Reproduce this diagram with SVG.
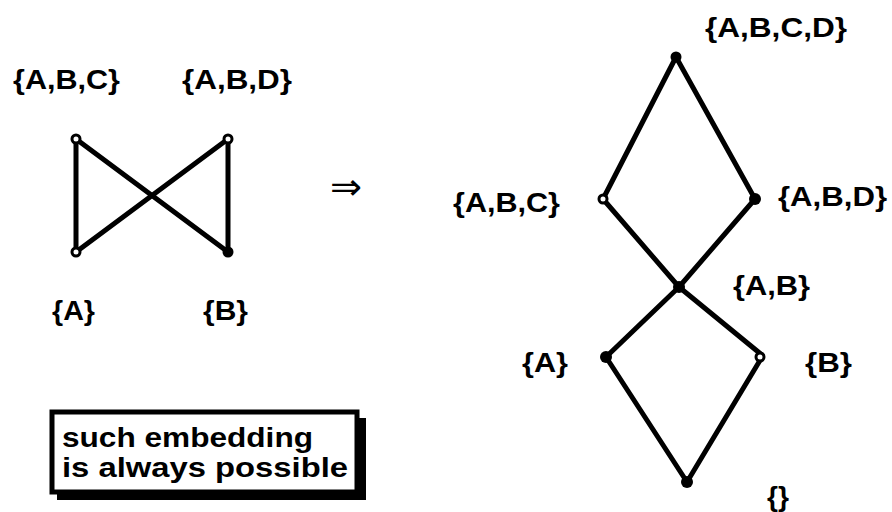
<svg xmlns="http://www.w3.org/2000/svg" width="892" height="512" viewBox="0 0 892 512">
<style>
.edge{stroke:#000;stroke-width:5;stroke-linecap:round;fill:none}
.lbl{font-family:"Liberation Sans",Arial,sans-serif;font-weight:bold;font-size:27px;fill:#000}
.ring{fill:#fff;stroke:#000;stroke-width:3}
.dot{fill:#000}
.box{font-family:"Liberation Sans",Arial,sans-serif;font-weight:bold;font-size:27px;fill:#000}
</style>
<rect width="892" height="512" fill="#fff"/>
<g id="connectors">
<line class="edge" x1="76" y1="139" x2="76" y2="252"/>
<line class="edge" x1="76" y1="139" x2="228" y2="252"/>
<line class="edge" x1="228" y1="139" x2="76" y2="252"/>
<line class="edge" x1="228" y1="139" x2="228" y2="252"/>
<line class="edge" x1="676" y1="57" x2="603" y2="199"/>
<line class="edge" x1="676" y1="57" x2="755" y2="199"/>
<line class="edge" x1="603" y1="199" x2="679" y2="287"/>
<line class="edge" x1="755" y1="199" x2="679" y2="287"/>
<line class="edge" x1="679" y1="287" x2="606" y2="357"/>
<line class="edge" x1="679" y1="287" x2="762" y2="355"/>
<line class="edge" x1="606" y1="357" x2="687" y2="482"/>
<line class="edge" x1="762" y1="357" x2="687" y2="482"/>
</g>
<g id="L_ABC"><circle class="ring" cx="76" cy="139" r="4"/><text class="lbl" x="13" y="89" textLength="107" lengthAdjust="spacingAndGlyphs">{A,B,C}</text></g>
<g id="L_ABD"><circle class="ring" cx="228" cy="139" r="4"/><text class="lbl" x="182" y="89" textLength="110" lengthAdjust="spacingAndGlyphs">{A,B,D}</text></g>
<g id="L_A"><circle class="ring" cx="76" cy="252" r="4"/><text class="lbl" x="52" y="320" textLength="43" lengthAdjust="spacingAndGlyphs">{A}</text></g>
<g id="L_B"><circle class="dot" cx="228" cy="252" r="5.5"/><text class="lbl" x="203" y="320" textLength="45" lengthAdjust="spacingAndGlyphs">{B}</text></g>
<g id="arrow"><text x="330" y="199" font-family="DejaVu Sans,sans-serif" font-size="36" fill="#000" textLength="32" lengthAdjust="spacingAndGlyphs">⇒</text></g>
<g id="R_ABCD"><circle class="dot" cx="676" cy="57" r="5.5"/><text class="lbl" x="705" y="37" textLength="142" lengthAdjust="spacingAndGlyphs">{A,B,C,D}</text></g>
<g id="R_ABC"><circle class="ring" cx="603" cy="199" r="4"/><text class="lbl" x="453" y="212" textLength="107" lengthAdjust="spacingAndGlyphs">{A,B,C}</text></g>
<g id="R_ABD"><circle class="dot" cx="755" cy="199" r="6"/><text class="lbl" x="778" y="206" textLength="109" lengthAdjust="spacingAndGlyphs">{A,B,D}</text></g>
<g id="R_AB"><circle class="dot" cx="679" cy="287" r="6"/><text class="lbl" x="733" y="295" textLength="77" lengthAdjust="spacingAndGlyphs">{A,B}</text></g>
<g id="R_A"><circle class="dot" cx="606" cy="357" r="6"/><text class="lbl" x="522" y="372" textLength="46" lengthAdjust="spacingAndGlyphs">{A}</text></g>
<g id="R_B"><circle class="ring" cx="760" cy="357" r="4"/><text class="lbl" x="805" y="372" textLength="47" lengthAdjust="spacingAndGlyphs">{B}</text></g>
<g id="R_empty"><circle class="dot" cx="687" cy="482" r="6"/><text class="lbl" x="767" y="506" textLength="22" lengthAdjust="spacingAndGlyphs">{}</text></g>
<g id="note">
<rect x="57" y="418" width="309" height="82" fill="#000"/>
<rect x="52" y="412" width="305" height="80" fill="#fff" stroke="#000" stroke-width="5"/>
<text class="box" x="62" y="447" textLength="251" lengthAdjust="spacingAndGlyphs">such embedding</text>
<text class="box" x="62" y="477" textLength="286" lengthAdjust="spacingAndGlyphs">is always possible</text>
</g>
</svg>
